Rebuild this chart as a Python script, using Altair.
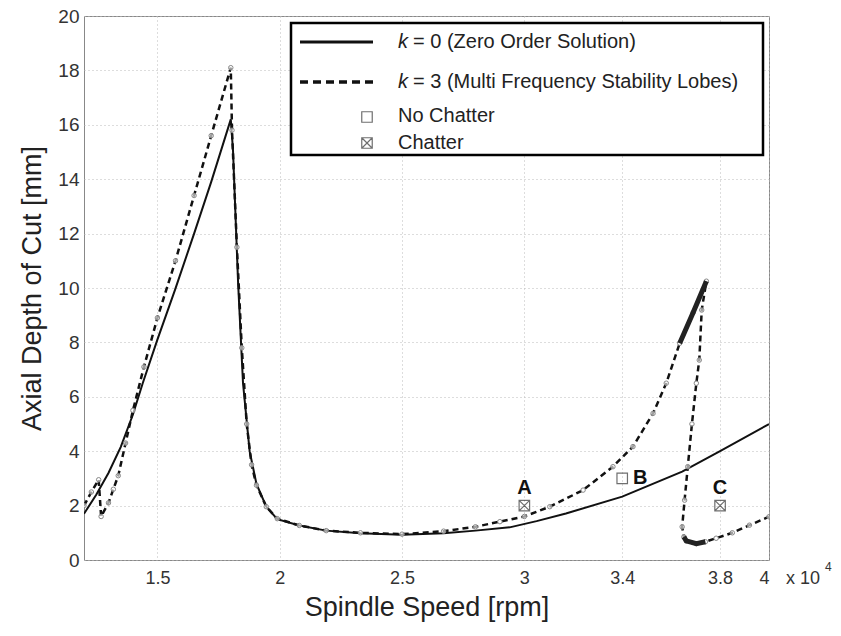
import altair as alt
import pandas as pd

# ---- data (spindle speed in units of 10^4 rpm, depth in mm) ----
k0_x = [1.20, 1.25, 1.30, 1.35, 1.40, 1.44, 1.50, 1.572, 1.65, 1.72, 1.80, 1.809, 1.83,
        1.85, 1.877, 1.905, 1.945, 1.99, 2.08, 2.19, 2.33, 2.50, 2.67, 2.80, 2.94, 3.05,
        3.17, 3.40, 3.645, 3.80, 4.00]
k0_y = [1.7, 2.4, 3.2, 4.15, 5.35, 6.5, 8.1, 9.93, 12.0, 13.9, 16.2, 15.07, 10.17,
        6.5, 4.0, 2.8, 1.96, 1.5, 1.27, 1.08, 0.98, 0.93, 0.98, 1.08, 1.2, 1.43,
        1.71, 2.33, 3.25, 4.0, 5.0]

k3_x = [1.20, 1.23, 1.26, 1.27, 1.30, 1.32, 1.34, 1.37, 1.40, 1.445, 1.50, 1.574, 1.65,
        1.72, 1.80, 1.805, 1.825, 1.845, 1.865, 1.885, 1.905, 1.945, 1.99, 2.08, 2.19,
        2.33, 2.50, 2.67, 2.80, 2.90, 3.00, 3.104, 3.24, 3.362, 3.444, 3.526, 3.58,
        3.635, 3.69, 3.744, 3.725, 3.715, 3.703, 3.685, 3.668, 3.655, 3.645, 3.652,
        3.662, 3.703, 3.74, 3.784, 3.85, 3.92, 4.00]
k3_y = [2.0, 2.5, 2.95, 1.6, 2.1, 2.6, 3.1, 4.3, 5.5, 7.1, 8.9, 11.0, 13.4,
        15.6, 18.1, 15.8, 11.5, 7.8, 5.0, 3.5, 2.75, 1.96, 1.52, 1.27, 1.08,
        1.0, 0.95, 1.06, 1.22, 1.41, 1.6, 1.96, 2.57, 3.43, 4.17, 5.39, 6.5,
        7.97, 9.1, 10.25, 9.19, 7.35, 6.5, 5.0, 3.43, 2.2, 1.22, 0.85,
        0.7, 0.6, 0.67, 0.8, 1.0, 1.28, 1.59]

test_x = [3.0, 3.4, 3.8]
test_y = [2.0, 3.0, 2.0]
test_label = ["A", "B", "C"]
test_state = ["Chatter", "No Chatter", "Chatter"]

x_ticks = [1.5, 2, 2.5, 3, 3.4, 3.8, 4]
y_ticks = list(range(0, 21, 2))

legend_labels = ["= 0 (Zero Order Solution)", "= 3 (Multi Frequency Stability Lobes)",
                 "No Chatter", "Chatter"]

# ---- layout ----
W, H = 685, 544
PL, PT = 84, 16
FONT = "Liberation Sans"
CROSS = "M-1,-1L1,-1L1,1L-1,1Z M-1,-1L1,1 M1,-1L-1,1"

k0 = pd.DataFrame({"x": k0_x, "y": k0_y, "i": range(len(k0_x))})
k3 = pd.DataFrame({"x": k3_x, "y": k3_y, "i": range(len(k3_x))})
tests = pd.DataFrame({"x": test_x, "y": test_y, "label": test_label, "state": test_state})

xs = alt.Scale(domain=[1.2, 4.0], nice=False, zero=False)
ys = alt.Scale(domain=[0, 20], nice=False, zero=False)

X = alt.X("x:Q", scale=xs, axis=alt.Axis(
    values=x_ticks, labelExpr="'' + datum.value", title="Spindle Speed [rpm]",
    labelFontSize=18, titleFontSize=27, labelPadding=9, titlePadding=7))
Y = alt.Y("y:Q", scale=ys, axis=alt.Axis(
    values=y_ticks, title="Axial Depth of Cut  [mm]",
    labelFontSize=19, titleFontSize=27, labelPadding=5, titleX=-52,
    titleBaseline="middle"))

solid = alt.Chart(k0).mark_line(color="#111", strokeWidth=2, clip=True).encode(
    x=X, y=Y, order="i:Q")
dashed = alt.Chart(k3).mark_line(color="#111", strokeWidth=2.5, strokeDash=[6, 4],
                                 clip=True).encode(x="x:Q", y="y:Q", order="i:Q")
circles = alt.Chart(k3).mark_point(shape="circle", filled=False, fill="white", fillOpacity=0.6,
                                   stroke="#888", strokeWidth=1, size=20, clip=True).encode(
    x="x:Q", y="y:Q")
dense1 = alt.Chart(k3.iloc[37:40]).mark_line(color="#222", strokeWidth=5, clip=True).encode(
    x="x:Q", y="y:Q", order="i:Q")
dense2 = alt.Chart(k3.iloc[47:51]).mark_line(color="#222", strokeWidth=5, clip=True).encode(
    x="x:Q", y="y:Q", order="i:Q")

no_chat = alt.Chart(tests).transform_filter("datum.state == 'No Chatter'").mark_point(
    shape="square", filled=False, color="#333", size=110, strokeWidth=1.2).encode(x="x:Q", y="y:Q")
chat = alt.Chart(tests).transform_filter("datum.state == 'Chatter'").mark_point(
    shape=CROSS, filled=False, color="#333", size=110, strokeWidth=1.2).encode(x="x:Q", y="y:Q")

lab_style = dict(font=FONT, fontSize=20, fontWeight="bold", color="#111", baseline="middle")
lab_ac = alt.Chart(tests).transform_filter("datum.label != 'B'").mark_text(
    align="center", dy=-18, **lab_style).encode(x="x:Q", y="y:Q", text="label:N")
lab_b = alt.Chart(tests).transform_filter("datum.label == 'B'").mark_text(
    align="center", dx=18, **lab_style).encode(x="x:Q", y="y:Q", text="label:N")

# ---- legend (drawn in page pixels, converted to plot coordinates) ----
one = pd.DataFrame({"a": [0]})


def px(v):
    return alt.value(v - PL)


def py(v):
    return alt.value(v - PT)


leg_box = alt.Chart(one).mark_rect(fill="white", stroke="black", strokeWidth=2.5).encode(
    x=px(291), x2=px(763), y=py(23), y2=py(155))
leg_solid = alt.Chart(one).mark_rule(color="#111", strokeWidth=3).encode(
    x=px(300), x2=px(373), y=py(42))
leg_dash = alt.Chart(one).mark_rule(color="#111", strokeWidth=3.5, strokeDash=[8, 5]).encode(
    x=px(300), x2=px(373), y=py(82))
leg_sq = alt.Chart(one).mark_point(shape="square", filled=False, color="#333", size=110,
                                   strokeWidth=1.2).encode(x=px(367), y=py(117))
leg_cx = alt.Chart(one).mark_point(shape=CROSS, filled=False, color="#333", size=110,
                                   strokeWidth=1.2).encode(x=px(367), y=py(143))
txt = dict(font=FONT, fontSize=20, color="#222", align="left", baseline="middle")
leg_k0 = alt.Chart(one).mark_text(text="k", fontStyle="italic", **txt).encode(x=px(398), y=py(42))
leg_t0 = alt.Chart(one).mark_text(text=legend_labels[0], **txt).encode(x=px(413), y=py(42))
leg_k3 = alt.Chart(one).mark_text(text="k", fontStyle="italic", **txt).encode(x=px(398), y=py(82))
leg_t3 = alt.Chart(one).mark_text(text=legend_labels[1], **txt).encode(x=px(413), y=py(82))
leg_t_nc = alt.Chart(one).mark_text(text=legend_labels[2], **txt).encode(x=px(398), y=py(116))
leg_t_c = alt.Chart(one).mark_text(text=legend_labels[3], **txt).encode(x=px(398), y=py(143))

exp_base = alt.Chart(one).mark_text(text="x 10", font=FONT, fontSize=18, color="#333",
                                    align="left", baseline="middle").encode(x=px(786), y=py(579))
exp_sup = alt.Chart(one).mark_text(text="4", font=FONT, fontSize=12, color="#333",
                                   align="left", baseline="middle").encode(x=px(825), y=py(567))

chart = alt.layer(
    solid, dashed, circles, dense1, dense2, no_chat, chat, lab_ac, lab_b,
    leg_box, leg_solid, leg_dash, leg_sq, leg_cx, leg_k0, leg_t0, leg_k3, leg_t3,
    leg_t_nc, leg_t_c, exp_base, exp_sup
).properties(
    width=W, height=H,
    autosize=alt.AutoSizeParams(type="none"),
    padding={"left": PL, "top": PT, "right": 841 - PL - W, "bottom": 636 - PT - H},
    background="white",
).configure_view(
    stroke="#888", strokeWidth=1
).configure_axis(
    grid=True, gridColor="#bbb", gridDash=[1, 3], gridWidth=1,
    domain=False, ticks=False,
    labelFont=FONT, titleFont=FONT, labelColor="#333", titleColor="#222",
    titleFontWeight="normal"
)

chart.save("out.html", embed_options={"renderer": "svg", "actions": False})
